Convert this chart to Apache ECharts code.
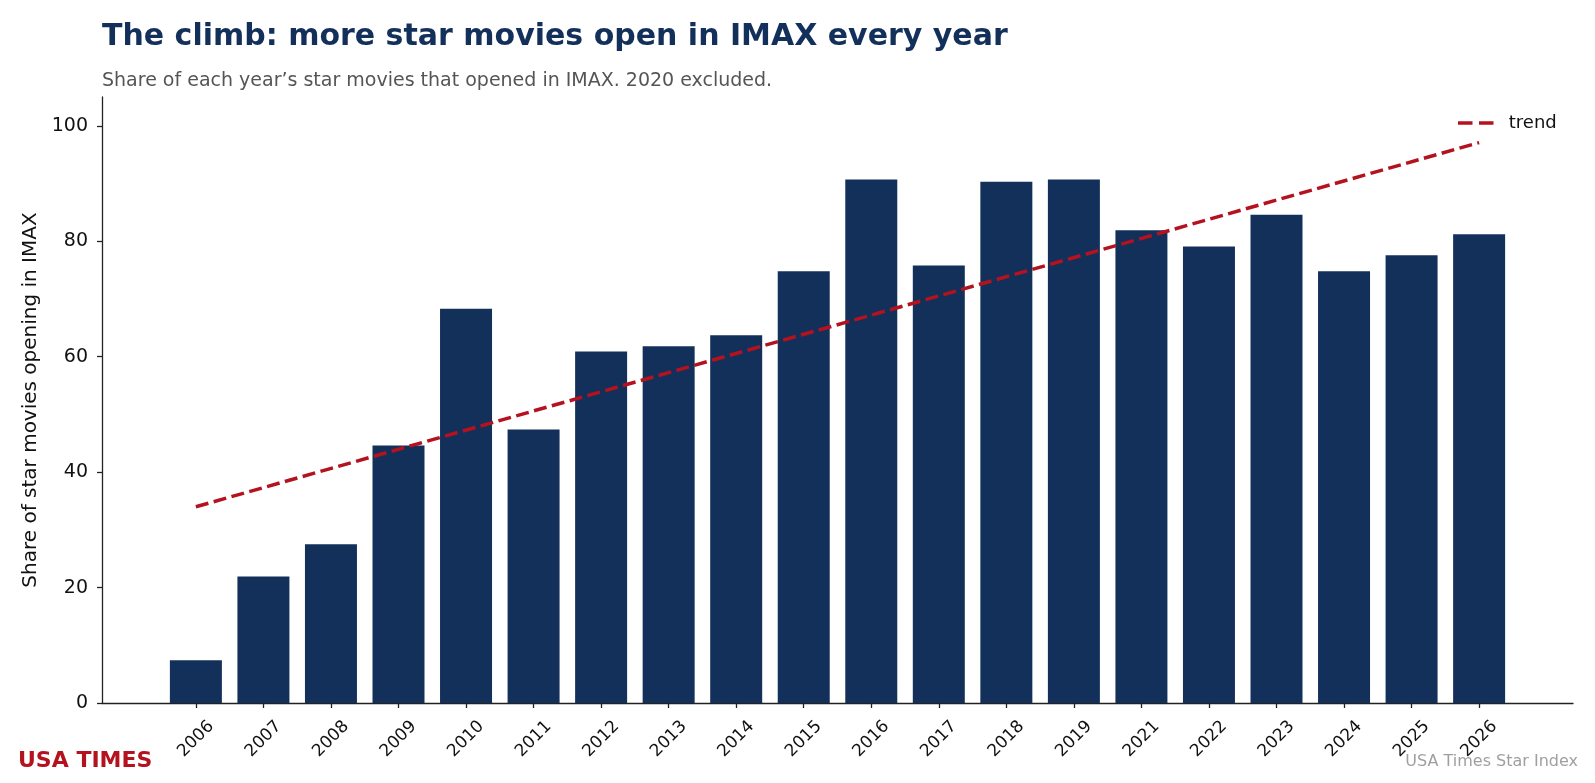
<!DOCTYPE html>
<html>
<head>
<meta charset="utf-8">
<title>IMAX share of star movies</title>
<script src="https://cdn.jsdelivr.net/npm/echarts@6/dist/echarts.min.js"></script>
<style>
  html, body { margin: 0; padding: 0; background: #fff; }
  #chart { width: 1595px; height: 783px; }
</style>
</head>
<body>
<div id="chart"></div>
<script>
// years shown on the axis (2020 left out)
var years = ['2006', '2007', '2008', '2009', '2010', '2011', '2012', '2013', '2014', '2015',
	'2016', '2017', '2018', '2019', '2021', '2022', '2023', '2024', '2025', '2026'];

// share of star movies opening in IMAX, %
var imaxShare = [7.4, 21.9, 27.5, 44.6, 68.3, 47.4, 60.9, 61.8, 63.7, 74.8,
	90.7, 75.8, 90.3, 90.7, 81.9, 79.1, 84.6, 74.8, 77.6, 81.2];

// trend line end points (first and last year)
var trendEnds = [34.0, 97.1];

var yTicks = [0, 20, 40, 60, 80, 100];

var navy = '#13305b';
var red = '#b4121e';
var font = 'DejaVu Sans';

var positions = years.map(function(y, i) {
	return i;
});

var barData = imaxShare.map(function(v, i) {
	return [i, v];
});

var trendData = [ [0, trendEnds[0]], [years.length - 1, trendEnds[1]] ];

var chart = echarts.init(document.getElementById('chart'));

chart.setOption({
	animation : false,
	backgroundColor : '#fff',
	textStyle : {
		fontFamily : font
	},
	title : [ {
		text : 'The climb: more star movies open in IMAX every year',
		left : 102,
		top : 22,
		padding : 0,
		textStyle : {
			fontFamily : font,
			fontSize : 30,
			fontWeight : 'bold',
			color : navy
		}
	}, {
		text : 'Share of each year\u2019s star movies that opened in IMAX. 2020 excluded.',
		left : 102,
		top : 72,
		padding : 0,
		textStyle : {
			fontFamily : font,
			fontSize : 19,
			fontWeight : 'normal',
			color : '#555555'
		}
	}, {
		text : 'USA TIMES',
		left : 18,
		top : 750,
		padding : 0,
		textStyle : {
			fontFamily : font,
			fontSize : 22,
			fontWeight : 'bold',
			color : red
		}
	}, {
		text : 'USA Times Star Index',
		right : 17,
		top : 754,
		padding : 0,
		textStyle : {
			fontFamily : font,
			fontSize : 16,
			fontWeight : 'normal',
			color : '#a0a0a0'
		}
	} ],
	legend : {
		data : [ {
			name : 'trend',
			icon : 'path://M0,0H14.5V3.5H0Z M21,0H35.5V3.5H21Z'
		} ],
		left : 1453,
		top : 109,
		itemWidth : 36,
		itemHeight : 3.5,
		textStyle : {
			fontFamily : font,
			fontSize : 18,
			color : '#111',
			padding : [ 0, 0, 0, 10 ]
		}
	},
	grid : {
		left : 102,
		right : 22,
		top : 97,
		bottom : 80,
		containLabel : false
	},
	xAxis : {
		type : 'value',
		min : -1.39,
		max : 20.39,
		splitLine : {
			show : false
		},
		axisLine : {
			show : true,
			onZero : false,
			lineStyle : {
				color : '#222',
				width : 1.3
			}
		},
		axisTick : {
			show : true,
			length : 5,
			customValues : positions,
			lineStyle : {
				color : '#222',
				width : 1.3
			}
		},
		axisLabel : {
			customValues : positions,
			rotate : 45,
			align : 'center',
			verticalAlign : 'middle',
			margin : 36,
			fontFamily : font,
			fontSize : 17,
			color : '#111',
			formatter : function(v) {
				return years[Math.round(v)];
			}
		}
	},
	yAxis : {
		type : 'value',
		min : 0,
		max : 105,
		name : 'Share of star movies opening in IMAX',
		nameLocation : 'middle',
		nameGap : 56,
		nameTextStyle : {
			fontFamily : font,
			fontSize : 20,
			color : '#111'
		},
		splitLine : {
			show : false
		},
		axisLine : {
			show : true,
			onZero : false,
			lineStyle : {
				color : '#222',
				width : 1.3
			}
		},
		axisTick : {
			show : true,
			length : 5,
			customValues : yTicks,
			lineStyle : {
				color : '#222',
				width : 1.3
			}
		},
		axisLabel : {
			customValues : yTicks,
			margin : 14,
			fontFamily : font,
			fontSize : 19,
			color : '#111'
		}
	},
	series : [ {
		name : 'share',
		type : 'bar',
		data : barData,
		barWidth : 52,
		itemStyle : {
			color : navy
		}
	}, {
		name : 'trend',
		type : 'line',
		data : trendData,
		symbol : 'none',
		z : 5,
		color : red,
		lineStyle : {
			color : red,
			width : 3.5,
			type : [ 13, 5.5 ]
		}
	} ]
});
</script>
</body>
</html>
